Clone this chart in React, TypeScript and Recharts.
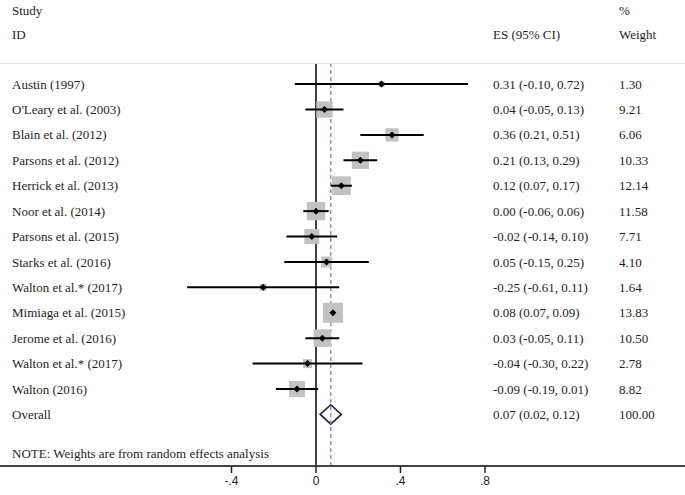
import React from "react";
import {
  ReferenceArea,
  ReferenceLine,
  Scatter,
  ScatterChart,
  XAxis,
  YAxis,
} from "recharts";

const studies = [
  "Austin (1997)",
  "O'Leary et al. (2003)",
  "Blain et al. (2012)",
  "Parsons et al. (2012)",
  "Herrick et al. (2013)",
  "Noor et al. (2014)",
  "Parsons et al. (2015)",
  "Starks et al. (2016)",
  "Walton et al.*  (2017)",
  "Mimiaga et al. (2015)",
  "Jerome et al. (2016)",
  "Walton et al.* (2017)",
  "Walton (2016)",
  "Overall",
];
const es = [0.31, 0.04, 0.36, 0.21, 0.12, 0.0, -0.02, 0.05, -0.25, 0.08, 0.03, -0.04, -0.09, 0.07];
const lo = [-0.1, -0.05, 0.21, 0.13, 0.07, -0.06, -0.14, -0.15, -0.61, 0.07, -0.05, -0.3, -0.19, 0.02];
const hi = [0.72, 0.13, 0.51, 0.29, 0.17, 0.06, 0.1, 0.25, 0.11, 0.09, 0.11, 0.22, 0.01, 0.12];
const weights = [1.3, 9.21, 6.06, 10.33, 12.14, 11.58, 7.71, 4.1, 1.64, 13.83, 10.5, 2.78, 8.82, 100.0];
const xTicks = [-0.4, 0, 0.4, 0.8];

const OVERALL = studies.length - 1;
const rows = studies.map((_, i) => i);
const studyRows = rows.filter((i) => i !== OVERALL);
const points = studyRows.map((i) => ({ row: i, es: es[i], weight: weights[i] }));
// two end points per study, joined by the scatter's own line
const ciSegments = studyRows.map((i) => [
  { row: i, es: lo[i] },
  { row: i, es: hi[i] },
]);
const labelRows = rows.map((i) => ({ row: i, es: 0 }));

const serif = "'Liberation Serif', 'Times New Roman', serif";
const textColor = "#1e1e1e";
const fontSize = 13;

const fmt = (v: number) => v.toFixed(2);
const axisFmt = (v: number) => (v === 0 ? "0" : String(v).replace(/^(-?)0\./, "$1."));

const NoShape = () => <g />;

const WeightBox = (props: any) => {
  const { cx, cy, payload } = props;
  const side = 5.38 * Math.sqrt(payload.weight);
  return <rect x={cx - side / 2} y={cy - side / 2} width={side} height={side} fill="#c2c2c2" />;
};

const PointMark = (props: any) => {
  const { cx, cy } = props;
  const r = 3.5;
  return (
    <polygon
      points={`${cx - r},${cy} ${cx},${cy - r} ${cx + r},${cy} ${cx},${cy + r}`}
      fill="#000"
    />
  );
};

const OverallDiamond = (props: any) => {
  const { x, y, width, height } = props;
  const my = y + height / 2;
  const mx = x + width / 2;
  return (
    <polygon
      points={`${x},${my} ${mx},${y} ${x + width},${my} ${mx},${y + height}`}
      fill="#fff"
      stroke="#1f1f48"
      strokeWidth={1.6}
    />
  );
};

// one row of table text, placed on the row's y from the scale
const RowText = (props: any) => {
  const { cy, payload } = props;
  const i = payload.row;
  const t = { fontFamily: serif, fontSize, fill: textColor, dy: "0.35em" } as const;
  return (
    <g>
      <text x={12} y={cy} {...t}>
        {studies[i]}
      </text>
      <text x={493} y={cy} {...t}>
        {`${fmt(es[i])} (${fmt(lo[i])}, ${fmt(hi[i])})`}
      </text>
      <text x={619} y={cy} {...t}>
        {fmt(weights[i])}
      </text>
    </g>
  );
};

const headStyle = (left: number, top: number): React.CSSProperties => ({
  position: "absolute",
  left,
  top: top - 7.5,
  lineHeight: "15px",
  fontFamily: serif,
  fontSize,
  color: textColor,
  whiteSpace: "nowrap",
});

export default function App() {
  return (
    <div style={{ position: "absolute", left: 0, top: 0, width: 685, height: 495, background: "#fff" }}>
      <div style={headStyle(12, 10)}>Study</div>
      <div style={headStyle(12, 34)}>ID</div>
      <div style={headStyle(493, 34)}>ES (95% CI)</div>
      <div style={headStyle(619, 10)}>%</div>
      <div style={headStyle(619, 34)}>Weight</div>
      <div style={{ position: "absolute", left: 0, top: 63, width: 685, height: 1, background: "#e4e4e4" }} />
      <ScatterChart width={685} height={495} margin={{ top: 64, right: 0, bottom: 0, left: 0 }}>
        <XAxis
          type="number"
          dataKey="es"
          domain={[-1.496, 1.747]}
          allowDataOverflow
          ticks={xTicks}
          tickFormatter={axisFmt}
          height={29}
          tickSize={7}
          tickMargin={3}
          stroke="#333"
          axisLine={{ stroke: "#444", strokeWidth: 2 }}
          tickLine={{ stroke: "#222", strokeWidth: 1.5 }}
          tick={{ fontFamily: "'Liberation Sans', Arial, sans-serif", fontSize: 12, fill: "#222" }}
        />
        <YAxis
          type="number"
          dataKey="row"
          domain={[-0.79, 15.03]}
          reversed
          allowDataOverflow
          width={0}
          hide
        />
        <ReferenceLine x={0} stroke="#000" strokeWidth={1.5} />
        <ReferenceLine x={es[OVERALL]} stroke="#a07a82" strokeWidth={1.3} strokeDasharray="4 3" />
        <Scatter data={labelRows} shape={<RowText />} isAnimationActive={false} />
        <Scatter data={points} shape={<WeightBox />} isAnimationActive={false} />
        {ciSegments.map((seg, k) => (
          <Scatter
            key={k}
            data={seg}
            line={{ stroke: "#000", strokeWidth: 2 }}
            shape={<NoShape />}
            isAnimationActive={false}
          />
        ))}
        <Scatter data={points} shape={<PointMark />} isAnimationActive={false} />
        <ReferenceArea
          x1={lo[OVERALL]}
          x2={hi[OVERALL]}
          y1={OVERALL - 0.38}
          y2={OVERALL + 0.38}
          shape={<OverallDiamond />}
        />
      </ScatterChart>
      <div style={headStyle(12, 453)}>NOTE: Weights are from random effects analysis</div>
    </div>
  );
}
